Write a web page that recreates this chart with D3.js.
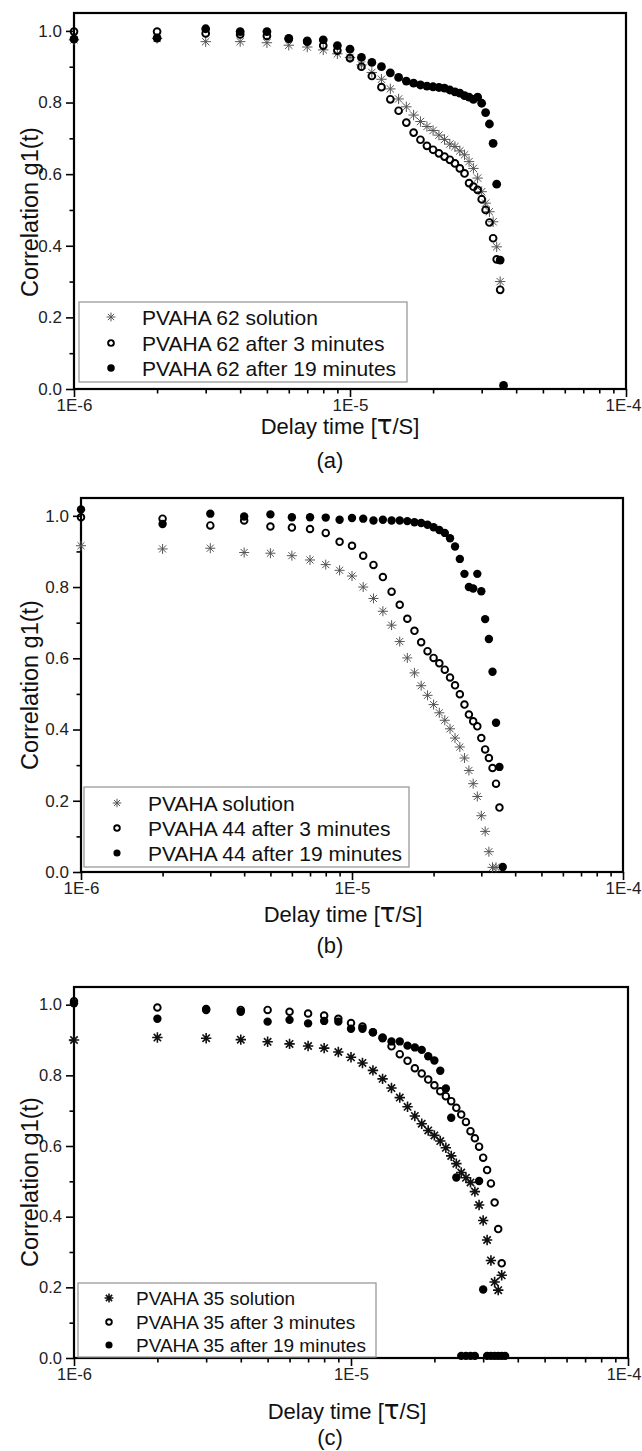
<!DOCTYPE html>
<html>
<head>
<meta charset="utf-8">
<script src="https://cdn.jsdelivr.net/npm/d3@7"></script>
<style>
  body { margin: 0; background: #fff; }
  svg { display: block; }
  text { font-family: "Liberation Sans", Arial, sans-serif; }
</style>
</head>
<body>
<div id="chart"></div>
<script>
// delay time channels, in microseconds
const delayTimeUs = [1, 2, 3, 4, 5, 6, 7, 8, 9, 10, 11, 12, 13, 14, 15, 16, 17, 18,
  19, 20, 21, 22, 23, 24, 25, 26, 27, 28, 29, 30, 31, 32, 33, 34, 35, 36]

// panel (a)
const aLabels = ["PVAHA 62 solution", "PVAHA 62 after 3 minutes", "PVAHA 62 after 19 minutes"]
const aSolution = [0.975, 0.979, 0.970, 0.970, 0.967, 0.960, 0.955, 0.947, 0.936, 0.926, 0.905, 0.884,
  0.865, 0.838, 0.810, 0.788, 0.765, 0.747, 0.733, 0.722, 0.709, 0.697, 0.684, 0.677, 0.665, 0.654,
  0.635, 0.616, 0.589, 0.551, 0.519, 0.495, 0.467, 0.397, 0.300]
const a3min = [0.998, 0.998, 0.993, 0.990, 0.986, 0.978, 0.970, 0.959, 0.945, 0.924, 0.900, 0.874,
  0.843, 0.809, 0.777, 0.744, 0.716, 0.696, 0.679, 0.668, 0.658, 0.649, 0.640, 0.630, 0.616, 0.602,
  0.575, 0.565, 0.556, 0.530, 0.500, 0.465, 0.421, 0.362, 0.277]
const a19min = [0.977, 0.980, 1.006, 0.998, 0.998, 0.979, 0.972, 0.975, 0.959, 0.949, 0.926, 0.912,
  0.900, 0.883, 0.870, 0.860, 0.854, 0.849, 0.846, 0.844, 0.842, 0.840, 0.835, 0.830, 0.826, 0.819,
  0.815, 0.809, 0.815, 0.798, 0.772, 0.740, 0.686, 0.572, 0.360, 0.010]

// panel (b)
const bLabels = ["PVAHA solution", "PVAHA 44 after 3 minutes", "PVAHA 44 after 19 minutes"]
const bSolution = [0.916, 0.907, 0.909, 0.897, 0.895, 0.888, 0.876, 0.863, 0.847, 0.831, 0.800, 0.768,
  0.732, 0.693, 0.647, 0.601, 0.559, 0.523, 0.496, 0.470, 0.447, 0.426, 0.402, 0.376, 0.351, 0.320,
  0.285, 0.248, 0.212, 0.158, 0.114, 0.057, 0.013, 0.013]
const b3min = [0.996, 0.992, 0.973, 0.987, 0.970, 0.967, 0.963, 0.952, 0.927, 0.916, 0.888, 0.862,
  0.828, 0.787, 0.750, 0.711, 0.677, 0.645, 0.620, 0.601, 0.586, 0.568, 0.546, 0.524, 0.499, 0.470,
  0.442, 0.423, 0.409, 0.376, 0.344, 0.320, 0.292, 0.248, 0.181]
const b19min = [1.018, 0.977, 1.006, 0.998, 1.004, 0.996, 0.996, 0.995, 0.989, 0.994, 0.992, 0.987,
  0.989, 0.987, 0.987, 0.985, 0.982, 0.980, 0.975, 0.968, 0.960, 0.952, 0.937, 0.914, 0.879, 0.837,
  0.800, 0.796, 0.837, 0.788, 0.710, 0.654, 0.562, 0.419, 0.295, 0.014]

// panel (c)
const cLabels = ["PVAHA 35 solution", "PVAHA 35 after 3 minutes", "PVAHA 35 after 19 minutes"]
const cSolution = [0.900, 0.907, 0.905, 0.901, 0.895, 0.889, 0.883, 0.877, 0.866, 0.851, 0.835, 0.814,
  0.790, 0.764, 0.737, 0.711, 0.685, 0.663, 0.644, 0.630, 0.614, 0.595, 0.572, 0.550, 0.525, 0.510,
  0.497, 0.471, 0.433, 0.389, 0.334, 0.276, 0.215, 0.192, 0.234]
const c3min = [1.010, 0.992, 0.988, 0.985, 0.985, 0.980, 0.975, 0.969, 0.960, 0.948, 0.938, 0.922,
  0.907, 0.882, 0.860, 0.841, 0.820, 0.805, 0.788, 0.772, 0.755, 0.741, 0.727, 0.708, 0.689, 0.668,
  0.642, 0.622, 0.598, 0.567, 0.532, 0.494, 0.440, 0.365, 0.268]
const c19min = [1.004, 0.960, 0.985, 0.980, 0.952, 0.957, 0.947, 0.954, 0.952, 0.932, 0.932, 0.922,
  0.905, 0.896, 0.896, 0.884, 0.879, 0.872, 0.854, 0.842, 0.813, 0.763, 0.680, 0.511, 0.006, 0.006,
  0.006, 0.006, 0.501, 0.194, 0.006, 0.006, 0.006, 0.006, 0.006, 0.006]

// axes
const xTickValues = [1e-6, 1e-5, 1e-4]
const xTickLabels = ["1E-6", "1E-5", "1E-4"]
const xMinorMultipliers = [2, 3, 4, 5, 6, 7, 8, 9]
const yTickValues = [0, 0.2, 0.4, 0.6, 0.8, 1.0]
const yMinorValues = [0.1, 0.3, 0.5, 0.7, 0.9]
const xTitle = ["Delay time [", "\u03C4", "/S]"]
const yTitle = "Correlation g1(t)"

// layout of the three stacked panels
const panels = [
  {
    caption: "(a)", labels: aLabels, series: [aSolution, a3min, a19min],
    left: 74, right: 626, top: 13, bottom: 389,
    starColor: "#555", starWidth: 1, tickFont: 17,
    legend: { x0: 79, x1: 407, y0: 302, y1: 382, symX: 111, textX: 142, rows: [317, 343, 368], font: 21 },
    xTitleX: 340, xTitleY: 434, yTitleY: 212, captionY: 468,
    size: { star: 5.2, open: 3.4, filled: 4.4 }
  },
  {
    caption: "(b)", labels: bLabels, series: [bSolution, b3min, b19min],
    left: 81, right: 623, top: 498, bottom: 872,
    starColor: "#555", starWidth: 1, tickFont: 17,
    legend: { x0: 84, x1: 409, y0: 787, y1: 867, symX: 117, textX: 148, rows: [803, 828, 853], font: 21 },
    xTitleX: 343, xTitleY: 922, yTitleY: 685, captionY: 953,
    size: { star: 5, open: 3.3, filled: 4.2 }
  },
  {
    caption: "(c)", labels: cLabels, series: [cSolution, c3min, c19min],
    left: 74, right: 628, top: 987, bottom: 1358,
    starColor: "#111", starWidth: 1.6, tickFont: 16.5,
    legend: { x0: 78, x1: 376, y0: 1283, y1: 1357, symX: 109, textX: 136, rows: [1298, 1322, 1345], font: 19 },
    xTitleX: 347, xTitleY: 1419, yTitleY: 1182, captionY: 1445,
    size: { star: 5.2, open: 3.3, filled: 4.2 }
  }
]

const svg = d3.select("#chart").append("svg")
  .attr("width", 642)
  .attr("height", 1451)

// eight-armed asterisk centred on 0,0
function starPath(r) {
  const d = r * Math.SQRT1_2
  return `M${-r},0L${r},0M0,${-r}L0,${r}M${-d},${-d}L${d},${d}M${-d},${d}L${d},${-d}`
}

function drawMarker(sel, kind, p, scale) {
  const s = p.size
  if (kind === 0) {
    sel.append("path")
      .attr("d", starPath(s.star * scale))
      .attr("fill", "none")
      .attr("stroke", p.starColor)
      .attr("stroke-width", p.starWidth)
  } else if (kind === 1) {
    sel.append("circle")
      .attr("r", s.open * scale)
      .attr("fill", "none")
      .attr("stroke", "#000")
      .attr("stroke-width", 1.9)
  } else {
    sel.append("circle")
      .attr("r", s.filled * scale)
      .attr("fill", "#000")
  }
}

function drawPanel(p) {
  const x = d3.scaleLog().domain([1e-6, 1e-4]).range([p.left, p.right])
  const y = d3.scaleLinear().domain([0, 1.05]).range([p.bottom, p.top])
  const g = svg.append("g")

  const xMinor = []
  xTickValues.slice(0, -1).forEach(dec => xMinorMultipliers.forEach(m => xMinor.push(m * dec)))

  // minor ticks
  g.append("g")
    .attr("transform", `translate(0,${p.bottom})`)
    .call(d3.axisBottom(x).tickValues(xMinor).tickSize(4.5).tickFormat(""))
  g.append("g")
    .attr("transform", `translate(${p.left},0)`)
    .call(d3.axisLeft(y).tickValues(yMinorValues).tickSize(4.5).tickFormat(""))

  // major ticks with labels
  const xAxis = g.append("g")
    .attr("transform", `translate(0,${p.bottom})`)
    .call(d3.axisBottom(x).tickValues(xTickValues).tickSize(8).tickPadding(2)
      .tickFormat((d, i) => xTickLabels[i]))
  g.append("g")
    .attr("transform", `translate(${p.left},0)`)
    .call(d3.axisLeft(y).tickValues(yTickValues).tickSize(8).tickPadding(4)
      .tickFormat(d3.format(".1f")))

  g.selectAll(".domain").remove()
  g.selectAll(".tick line").attr("stroke", "#000").attr("stroke-width", 1.6)
  g.selectAll(".tick text")
    .attr("fill", "#222")
    .style("font-size", p.tickFont + "px")
    .style("font-family", '"Liberation Sans", Arial, sans-serif')
  // last decade label sits at the page edge, keep it inside
  xAxis.selectAll(".tick text").filter((d, i) => i === xTickValues.length - 1)
    .attr("text-anchor", "end")
    .attr("x", 641 - p.right)

  // frame
  g.append("rect")
    .attr("x", p.left).attr("y", p.top)
    .attr("width", p.right - p.left).attr("height", p.bottom - p.top)
    .attr("fill", "none")
    .attr("stroke", "#000")
    .attr("stroke-width", 2.2)

  // points: solution first, then 3 min, then 19 min on top
  p.series.forEach((vals, kind) => {
    const pts = vals.map((v, i) => ({ t: delayTimeUs[i] * 1e-6, v }))
    g.append("g")
      .selectAll("g")
      .data(pts)
      .join("g")
      .attr("transform", d => `translate(${x(d.t)},${y(d.v)})`)
      .each(function () { drawMarker(d3.select(this), kind, p, 1) })
  })

  // legend
  const L = p.legend
  g.append("rect")
    .attr("x", L.x0).attr("y", L.y0)
    .attr("width", L.x1 - L.x0).attr("height", L.y1 - L.y0)
    .attr("fill", "#fff")
    .attr("stroke", "#9a9a9a")
    .attr("stroke-width", 1.3)
  p.labels.forEach((lab, i) => {
    const row = g.append("g").attr("transform", `translate(${L.symX},${L.rows[i]})`)
    drawMarker(row, i, p, 0.85)
    g.append("text")
      .attr("x", L.textX)
      .attr("y", L.rows[i])
      .attr("dy", "0.36em")
      .style("font-size", L.font + "px")
      .attr("fill", "#111")
      .text(lab)
  })

  // axis titles
  const xt = g.append("text")
    .attr("x", p.xTitleX)
    .attr("y", p.xTitleY)
    .attr("text-anchor", "middle")
    .style("font-size", "22px")
    .attr("fill", "#111")
  xt.append("tspan").text(xTitle[0])
  xt.append("tspan").style("font-size", "26px").style("font-family", '"DejaVu Sans", sans-serif').text(xTitle[1])
  xt.append("tspan").text(xTitle[2])

  g.append("text")
    .attr("transform", `translate(38,${p.yTitleY}) rotate(-90)`)
    .attr("text-anchor", "middle")
    .style("font-size", "23.5px")
    .attr("fill", "#111")
    .text(yTitle)

  g.append("text")
    .attr("x", 330)
    .attr("y", p.captionY)
    .attr("text-anchor", "middle")
    .style("font-size", "22px")
    .attr("fill", "#111")
    .text(p.caption)
}

panels.forEach(drawPanel)
</script>
</body>
</html>
